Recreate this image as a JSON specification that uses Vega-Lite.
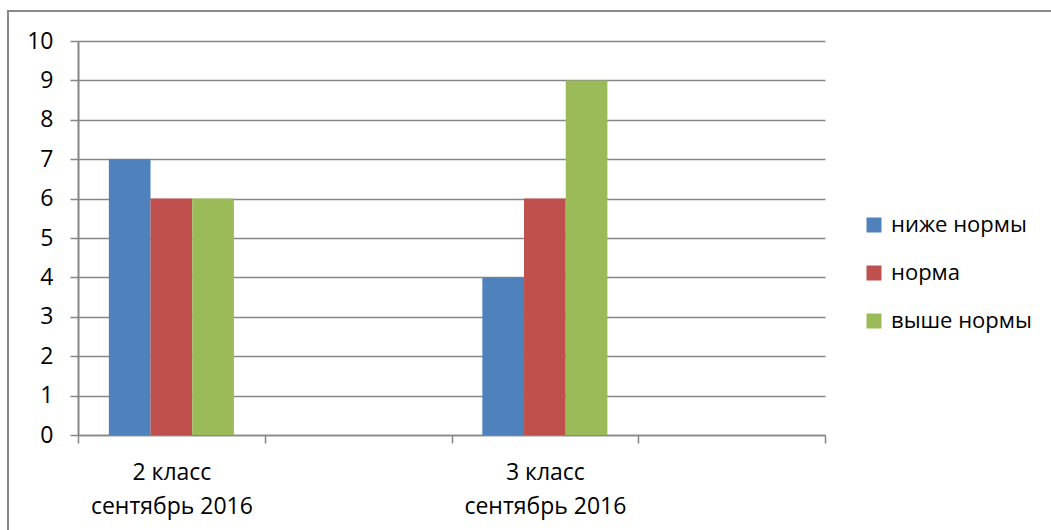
{
  "$schema": "https://vega.github.io/schema/vega-lite/v6.json",
  "autosize": "none",
  "padding": {"left": 8, "top": 11, "right": 0, "bottom": 0},
  "width": 1043,
  "height": 519,
  "background": "white",
  "config": {
    "view": {"stroke": "#898989", "strokeWidth": 2, "strokeDash": [1043, 1562, 519]},
    "font": "Open Sans"
  },
  "data": {
    "values": [
      {"cat": "c1", "series": "ниже нормы", "value": 7},
      {"cat": "c1", "series": "норма", "value": 6},
      {"cat": "c1", "series": "выше нормы", "value": 6},
      {"cat": "c3", "series": "ниже нормы", "value": 4},
      {"cat": "c3", "series": "норма", "value": 6},
      {"cat": "c3", "series": "выше нормы", "value": 9}
    ]
  },
  "mark": {"type": "bar"},
  "encoding": {
    "x": {
      "field": "cat",
      "type": "nominal",
      "scale": {"domain": ["c1", "c2", "c3", "c4"], "range": [70, 817], "paddingInner": 0, "paddingOuter": 0},
      "axis": {
        "title": null,
        "offset": -95,
        "labelExpr": "datum.value == 'c1' ? ['2 класс', 'сентябрь 2016'] : datum.value == 'c3' ? ['3 класс', 'сентябрь 2016'] : ''",
        "labelAngle": 0,
        "labelBaseline": "top",
        "labelFontSize": 23,
        "labelLineHeight": 34,
        "labelColor": "black",
        "labelPadding": 18,
        "labelOverlap": false,
        "labelFlush": false,
        "tickBand": "extent",
        "tickSize": 8,
        "tickColor": "#868686",
        "tickWidth": 1.5,
        "domainColor": "#868686",
        "domainWidth": 1.5,
        "grid": false
      }
    },
    "xOffset": {
      "field": "series",
      "type": "nominal",
      "sort": ["ниже нормы", "норма", "выше нормы"],
      "scale": {"paddingInner": 0, "paddingOuter": 0.74}
    },
    "y": {
      "field": "value",
      "type": "quantitative",
      "scale": {"domain": [0, 10], "range": [424, 30], "nice": false, "zero": true},
      "axis": {
        "title": null,
        "offset": -70,
        "values": [0, 1, 2, 3, 4, 5, 6, 7, 8, 9, 10],
        "labelFontSize": 23,
        "labelColor": "black",
        "labelPadding": 17,
        "tickSize": 8,
        "tickColor": "#868686",
        "tickWidth": 1.5,
        "domainColor": "#868686",
        "domainWidth": 2,
        "grid": true,
        "gridColor": "#868686",
        "gridWidth": 1.5
      }
    },
    "color": {
      "field": "series",
      "type": "nominal",
      "sort": ["ниже нормы", "норма", "выше нормы"],
      "scale": {"domain": ["ниже нормы", "норма", "выше нормы"], "range": ["#4F81BD", "#C0504D", "#9BBB59"]},
      "legend": {
        "title": null,
        "orient": "none",
        "legendX": 855,
        "legendY": 203,
        "symbolType": "square",
        "symbolSize": 225,
        "symbolStrokeWidth": 0,
        "labelFontSize": 22,
        "labelColor": "black",
        "labelOffset": 6,
        "rowPadding": 26
      }
    }
  }
}
